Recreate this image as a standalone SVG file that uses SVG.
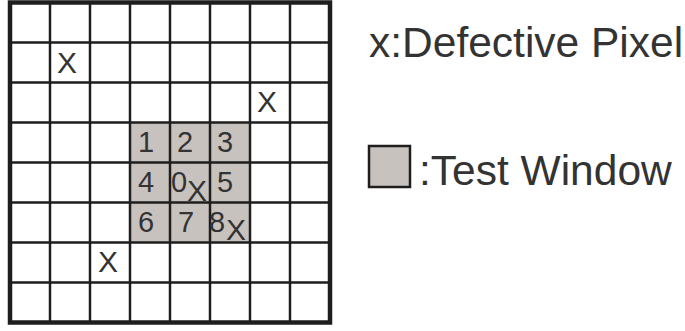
<svg xmlns="http://www.w3.org/2000/svg" width="685" height="331" viewBox="0 0 685 331">
<style>
.t{font-family:"Liberation Sans",Arial,sans-serif;fill:#333;}
.d{font-size:29px;}
.x{font-size:30px;}
.lg{font-size:42.5px;}
.in{stroke:#1e1e1e;stroke-width:2.5;fill:none;}
.win{fill:#c8c2bf;}
</style>
<rect width="685" height="331" fill="#fff"/>
<g id="test-window">
<rect class="win" x="130" y="122.5" width="120" height="120"/>
</g>
<g id="grid">
<path class="in" d="M50 2.5V322.5M90 2.5V322.5M130 2.5V322.5M170 2.5V322.5M210 2.5V322.5M250 2.5V322.5M290 2.5V322.5M10 42.5H330M10 82.5H330M10 122.5H330M10 162.5H330M10 202.5H330M10 242.5H330M10 282.5H330"/>
<rect x="10" y="2.5" width="320" height="320" fill="none" stroke="#1e1e1e" stroke-width="4.5"/>
</g>
<g id="defects">
<text class="t x" x="57" y="73">X</text>
<text class="t x" x="257" y="112">X</text>
<text class="t x" x="98" y="272">X</text>
</g>
<g id="window-labels">
<text class="t d" x="138" y="152">1</text>
<text class="t d" x="177" y="152">2</text>
<text class="t d" x="217" y="152">3</text>
<text class="t d" x="138" y="192">4</text>
<text class="t d" x="171" y="192">0</text>
<text class="t x" x="187" y="201">X</text>
<text class="t d" x="217" y="192">5</text>
<text class="t d" x="138" y="232">6</text>
<text class="t d" x="178" y="232">7</text>
<text class="t d" x="209" y="232">8</text>
<text class="t x" x="226" y="240">X</text>
</g>
<g id="legend">
<text class="t lg" x="369" y="57">x:Defective Pixel</text>
<rect class="win" x="369" y="146" width="41" height="41" stroke="#1e1e1e" stroke-width="2.5"/>
<text class="t lg" x="419" y="185">:Test Window</text>
</g>
</svg>
